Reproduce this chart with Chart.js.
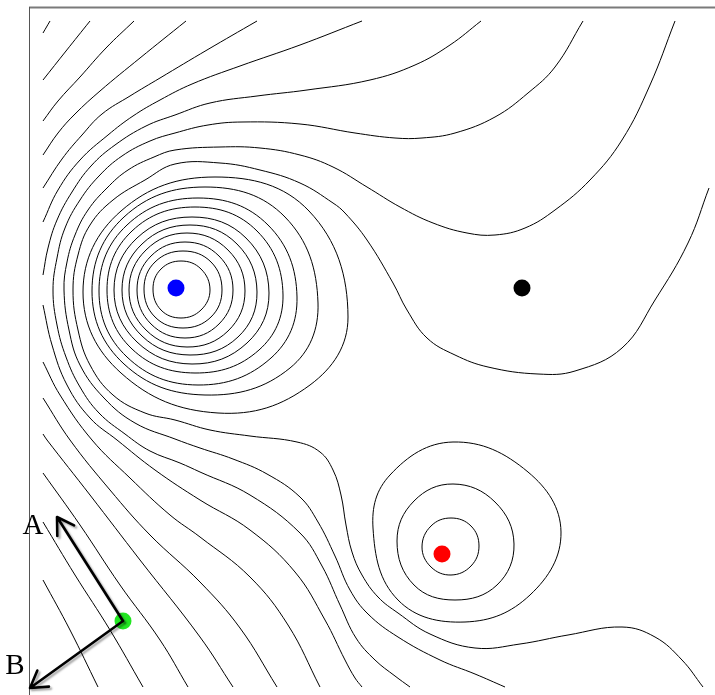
<!DOCTYPE html>
<html>
<head>
<meta charset="utf-8">
<script src="https://cdn.jsdelivr.net/npm/chart.js@4.4.1/dist/chart.umd.min.js"></script>
<style>
  html, body { margin: 0; padding: 0; background: #fff; }
  canvas { display: block; }
</style>
</head>
<body>
<canvas id="chart1" width="715" height="695"></canvas>
<script>
// plane coordinates: x to the right, y downwards (same units as the picture)

// closed contours round the blue point, inner to outer (8 points each)
const blueRings = [
  [[153,289],[161,269],[181,261],[201,269],[210,290],[201,310],[181,318],[161,310]],
  [[144,289],[155,262],[183,251],[211,262],[222,290],[211,317],[183,328],[155,317]],
  [[137,290],[151,256],[185,242],[219,256],[233,290],[219,324],[185,338],[151,324]],
  [[129,290],[146,250],[187,233],[228,250],[245,291],[228,331],[187,347],[146,330]],
  [[122,290],[142,244],[190,225],[237,244],[257,292],[238,337],[190,355],[142,336]],
  [[114,290],[137,238],[192,217],[246,238],[269,293],[247,343],[192,364],[137,342]],
  [[107,290],[132,231],[195,207],[257,231],[283,295],[259,350],[195,373],[132,349]],
  [[99,291],[127,225],[198,198],[268,225],[297,297],[271,358],[198,385],[127,357]],
  [[92,291],[124,217],[205,187],[285,217],[318,303],[290,368],[205,395],[124,364]],
  [[83,292],[121,211],[215,177],[309,211],[348,317],[310,385],[218,413],[121,373]]
];

// closed contours round the red point
const redRings = [
  [[422,547],[431,526],[451,518],[471,526],[479,546],[471,566],[451,575],[431,567]],
  [[397,541],[414,501],[453,484],[495,502],[514,544],[497,585],[455,600],[414,585]],
  [[373,528],[390,475],[453,442],[528,472],[561,532],[530,595],[465,622],[398,600]]
];

// open contours
const openLines = [
  // top-left corner
  [[43,33],[50,21]],
  [[43,80],[66,51],[90,21]],
  [[43,121],[58,101],[80,77],[106,48],[134,21]],
  [[43,155],[58,133],[75,114],[100,91],[140,58],[186,21]],
  [[43,188],[62,159],[82,135],[102,114],[130,96],[160,78],[207,50],[257,21]],
  [[43,222],[58,190],[80,160],[108,135],[133,116],[160,100],[192,84],[240,66],[300,45],[362,21]],
  [[43,275],[48,248],[57,220],[72,192],[91,166],[115,145],[146,126],[175,115],[210,103],[257,96],[307,90],[370,80],[415,65],[450,45],[481,21]],
  // wraps round the blue point, upper end at the right edge, lower end at the bottom
  [[709,188],[688,243],[655,300],[622,348],[575,371],[538,374],[488,367],[455,355],[427,338],[407,310],[393,283],[367,240],[345,213],[333,203],[300,183],[260,170],[220,163],[175,164],[145,180],[113,200],[90,225],[78,255],[73,290],[78,330],[90,365],[113,395],[145,413],[175,420],[210,430],[250,436],[297,442],[320,452],[333,470],[341,495],[346,525],[352,552],[362,575],[378,597],[398,613],[430,634],[475,648],[520,644],[568,635],[622,627],[655,637],[682,660],[703,687]],
  [[675,21],[650,85],[622,140],[590,180],[555,210],[525,228],[495,235],[467,233],[433,223],[400,207],[367,187],[333,167],[300,155],[260,148],[220,147],[175,150],[154,157],[128,170],[107,188],[88,210],[75,235],[67,262],[64,290],[69,330],[80,365],[104,398],[135,423],[175,439],[200,448],[233,459],[267,474],[300,497],[318,522],[335,556],[350,590],[368,614],[398,637],[440,660],[475,674],[505,687]],
  [[583,21],[555,67],[528,93],[495,117],[455,133],[422,138],[395,138],[355,133],[300,124],[242,122],[208,125],[175,133],[150,141],[122,156],[99,176],[80,200],[65,228],[57,258],[53,290],[57,325],[66,357],[80,387],[99,413],[125,434],[150,451],[180,463],[200,472],[250,495],[300,533],[322,566],[340,605],[356,638],[375,660],[395,676],[410,687]],
  // lower-left family
  [[43,305],[52,345],[67,385],[90,418],[117,440],[155,470],[200,500],[250,530],[295,572],[325,620],[345,660],[355,678],[362,687]],
  [[43,362],[60,395],[92,440],[130,478],[170,515],[200,537],[250,577],[288,625],[320,687]],
  [[43,398],[70,440],[110,490],[150,535],[200,582],[240,628],[277,687]],
  [[43,434],[47,440],[90,495],[140,560],[200,637],[233,687]],
  [[43,473],[80,525],[120,585],[160,640],[188,687]],
  [[43,522],[75,575],[110,630],[143,687]],
  [[43,580],[70,630],[98,687]]
];

// marked points
const markNames = ['blue', 'black', 'red', 'green'];
const markX = [176, 522, 442, 123];
const markY = [288, 288, 554, 621];
const markColors = ['#0000ff', '#000000', '#ff0000', '#22e622'];

// direction arrows from the green point
const arrowLabels = ['A', 'B'];
const arrowTipX = [57, 30];
const arrowTipY = [517, 688];

const toPts = arr => arr.map(p => ({ x: p[0], y: p[1] }));

function ringDataset(ring) {
  const n = ring.length;
  const pts = [ring[n - 1], ...ring, ring[0], ring[1]];
  const last = pts.length - 1;
  return {
    data: toPts(pts),
    showLine: true,
    borderColor: '#000',
    borderWidth: 1,
    tension: 0.4,
    pointRadius: 0,
    order: 2,
    segment: {
      borderColor: ctx => (ctx.p0DataIndex === 0 || ctx.p1DataIndex === last) ? 'rgba(0,0,0,0)' : '#000'
    }
  };
}

function lineDataset(line) {
  return {
    data: toPts(line),
    showLine: true,
    borderColor: '#000',
    borderWidth: 1,
    tension: 0.4,
    pointRadius: 0,
    order: 2
  };
}

const datasets = [];
blueRings.forEach(r => datasets.push(ringDataset(r)));
redRings.forEach(r => datasets.push(ringDataset(r)));
openLines.forEach(l => datasets.push(lineDataset(l)));
datasets.push({
  label: 'points',
  data: markX.map((x, i) => ({ x: x, y: markY[i], name: markNames[i] })),
  showLine: false,
  pointRadius: 8.5,
  pointHoverRadius: 8.5,
  pointBackgroundColor: markColors,
  pointBorderWidth: 0,
  order: 0
});

const extras = {
  id: 'extras',
  beforeDatasetsDraw(chart) {
    const { ctx, scales: { x, y } } = chart;
    ctx.save();
    ctx.strokeStyle = '#7a7a7a';
    ctx.lineWidth = 2;
    ctx.beginPath();
    ctx.moveTo(x.getPixelForValue(29), y.getPixelForValue(7.5));
    ctx.lineTo(x.getPixelForValue(715), y.getPixelForValue(7.5));
    ctx.stroke();
    ctx.strokeStyle = '#555';
    ctx.lineWidth = 1;
    ctx.beginPath();
    ctx.moveTo(x.getPixelForValue(29.5), y.getPixelForValue(7));
    ctx.lineTo(x.getPixelForValue(29.5), y.getPixelForValue(695));
    ctx.stroke();
    ctx.restore();
  },
  afterDatasetsDraw(chart) {
    const { ctx, scales: { x, y } } = chart;
    const gi = markNames.indexOf('green');
    const x0 = x.getPixelForValue(markX[gi]);
    const y0 = y.getPixelForValue(markY[gi]);
    ctx.save();
    ctx.lineCap = 'round';
    ctx.lineJoin = 'round';
    arrowLabels.forEach((lab, i) => {
      const x1 = x.getPixelForValue(arrowTipX[i]);
      const y1 = y.getPixelForValue(arrowTipY[i]);
      const ang = Math.atan2(y1 - y0, x1 - x0);
      const head = 19;
      const spread = 0.55;
      ctx.strokeStyle = '#000';
      ctx.lineWidth = 2.6;
      ctx.shadowColor = 'rgba(0,0,0,0.35)';
      ctx.shadowBlur = 2;
      ctx.shadowOffsetX = 2;
      ctx.shadowOffsetY = 2;
      ctx.beginPath();
      ctx.moveTo(x0, y0);
      ctx.lineTo(x1, y1);
      ctx.moveTo(x1 - head * Math.cos(ang - spread), y1 - head * Math.sin(ang - spread));
      ctx.lineTo(x1, y1);
      ctx.lineTo(x1 - head * Math.cos(ang + spread), y1 - head * Math.sin(ang + spread));
      ctx.stroke();
    });
    ctx.shadowColor = 'rgba(0,0,0,0)';
    ctx.fillStyle = '#000';
    ctx.font = '29px "Liberation Serif", "Times New Roman", serif';
    ctx.textAlign = 'center';
    ctx.textBaseline = 'alphabetic';
    ctx.fillText(arrowLabels[0], x.getPixelForValue(33), y.getPixelForValue(534));
    ctx.fillText(arrowLabels[1], x.getPixelForValue(15), y.getPixelForValue(674));
    ctx.restore();
  }
};

new Chart(document.getElementById('chart1'), {
  type: 'scatter',
  data: { datasets: datasets },
  options: {
    responsive: false,
    animation: false,
    devicePixelRatio: 1,
    layout: { padding: 0, autoPadding: false },
    plugins: { legend: { display: false }, tooltip: { enabled: false } },
    events: [],
    scales: {
      x: { type: 'linear', min: 0, max: 715, display: false },
      y: { type: 'linear', min: 0, max: 695, reverse: true, display: false }
    }
  },
  plugins: [extras]
});
</script>
</body>
</html>
